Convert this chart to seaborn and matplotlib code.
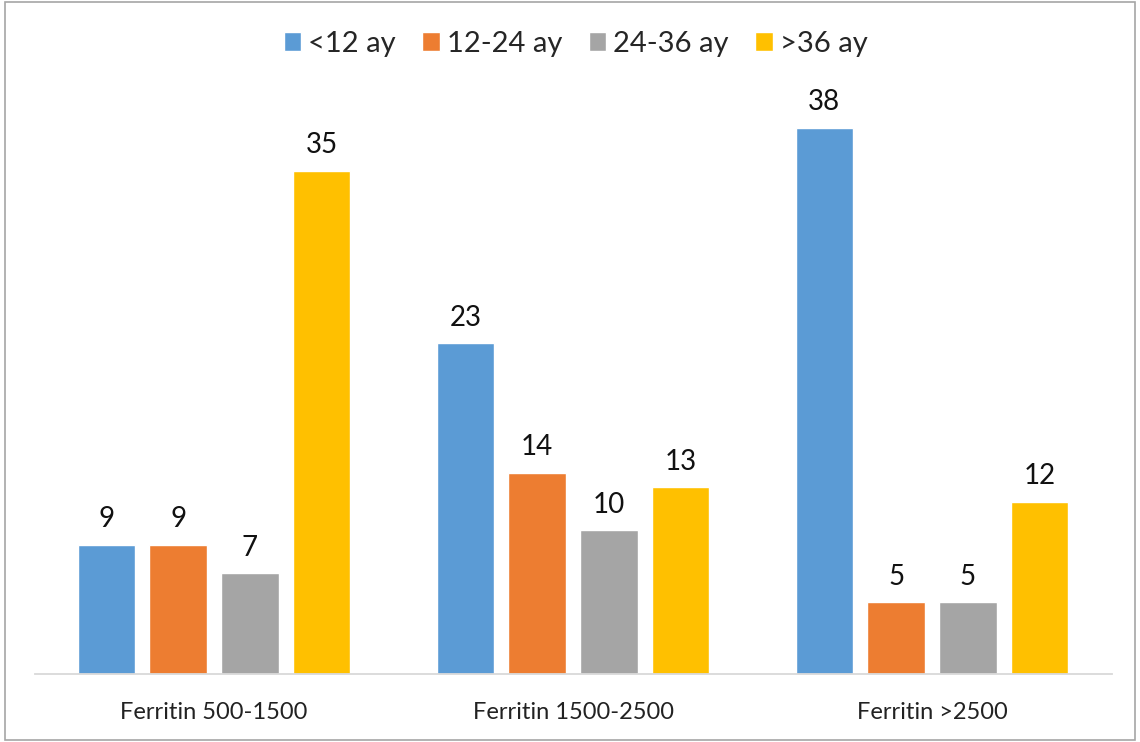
import matplotlib
matplotlib.use("Agg")
import matplotlib.pyplot as plt
import seaborn as sns
import pandas as pd
from matplotlib.patches import Rectangle

# Data
groups = ["Ferritin 500-1500", "Ferritin 1500-2500", "Ferritin >2500"]
age_bands = ["<12 ay", "12-24 ay", "24-36 ay", ">36 ay"]
lt12 = [9, 23, 38]
m12_24 = [9, 14, 5]
m24_36 = [7, 10, 5]
gt36 = [35, 13, 12]
colors = ["#5B9BD5", "#ED7D31", "#A5A5A5", "#FFC000"]

rows = []
for band, vals in zip(age_bands, [lt12, m12_24, m24_36, gt36]):
    for g, v in zip(groups, vals):
        rows.append({"group": g, "band": band, "value": v})
df = pd.DataFrame(rows)

sns.set_theme(style="white")
plt.rcParams["font.family"] = ["Lato", "DejaVu Sans"]

fig = plt.figure(figsize=(11.4, 7.42), dpi=100)
ax = fig.add_axes([0.0303, 0.0916, 0.9447, 0.775])

sns.barplot(data=df, x="group", y="value", hue="band", order=groups,
            hue_order=age_bands, palette=colors, width=0.8, gap=0.2,
            saturation=1, ax=ax, legend=True)

ax.set_ylim(0, 40)
ax.set_xlim(-0.5, 2.5)
ax.set_xlabel("")
ax.set_ylabel("")
ax.set_yticks([])
for s in ["top", "right", "left"]:
    ax.spines[s].set_visible(False)
ax.spines["bottom"].set_color("#D9D9D9")
ax.spines["bottom"].set_linewidth(1.3)
ax.tick_params(axis="x", length=0, pad=20, labelsize=17, labelcolor="#222222")

for cont in ax.containers:
    ax.bar_label(cont, labels=[f"{int(v)}" for v in cont.datavalues],
                 padding=9, fontsize=20, color="#111111", clip_on=False)

handles, labels = ax.get_legend_handles_labels()
ax.legend(handles, labels, loc="center", bbox_to_anchor=(0.505, 0.941),
          bbox_transform=fig.transFigure, ncol=4, frameon=False,
          fontsize=21, handlelength=0.6, handleheight=0.6,
          handletextpad=0.25, columnspacing=0.9)

fig.patches.append(Rectangle((0.004, 0.003), 0.992, 0.994,
                             transform=fig.transFigure, fill=False,
                             edgecolor="#A6A6A6", linewidth=1.2))

fig.savefig("out.png", dpi=100, facecolor="white")
